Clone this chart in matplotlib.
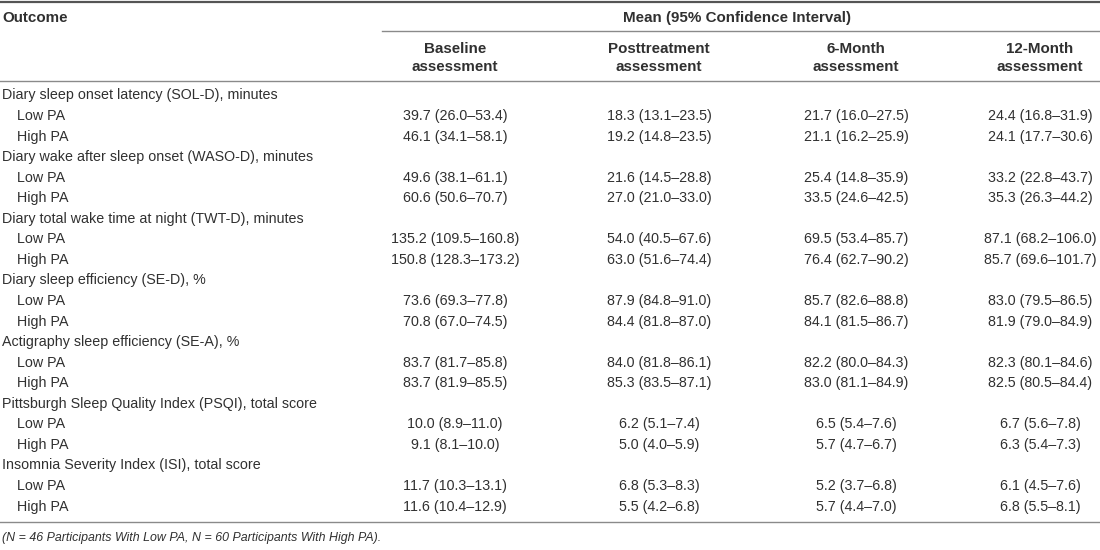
import matplotlib
matplotlib.use("Agg")
import matplotlib.pyplot as plt

# table content
outcomes = [
    "Diary sleep onset latency (SOL-D), minutes",
    "Diary wake after sleep onset (WASO-D), minutes",
    "Diary total wake time at night (TWT-D), minutes",
    "Diary sleep efficiency (SE-D), %",
    "Actigraphy sleep efficiency (SE-A), %",
    "Pittsburgh Sleep Quality Index (PSQI), total score",
    "Insomnia Severity Index (ISI), total score",
]
groups = ["Low PA", "High PA"]
columns = ["Baseline\nassessment", "Posttreatment\nassessment",
           "6-Month\nassessment", "12-Month\nassessment"]

baseline = [
    ["39.7 (26.0–53.4)", "46.1 (34.1–58.1)"],
    ["49.6 (38.1–61.1)", "60.6 (50.6–70.7)"],
    ["135.2 (109.5–160.8)", "150.8 (128.3–173.2)"],
    ["73.6 (69.3–77.8)", "70.8 (67.0–74.5)"],
    ["83.7 (81.7–85.8)", "83.7 (81.9–85.5)"],
    ["10.0 (8.9–11.0)", "9.1 (8.1–10.0)"],
    ["11.7 (10.3–13.1)", "11.6 (10.4–12.9)"],
]
posttreatment = [
    ["18.3 (13.1–23.5)", "19.2 (14.8–23.5)"],
    ["21.6 (14.5–28.8)", "27.0 (21.0–33.0)"],
    ["54.0 (40.5–67.6)", "63.0 (51.6–74.4)"],
    ["87.9 (84.8–91.0)", "84.4 (81.8–87.0)"],
    ["84.0 (81.8–86.1)", "85.3 (83.5–87.1)"],
    ["6.2 (5.1–7.4)", "5.0 (4.0–5.9)"],
    ["6.8 (5.3–8.3)", "5.5 (4.2–6.8)"],
]
month6 = [
    ["21.7 (16.0–27.5)", "21.1 (16.2–25.9)"],
    ["25.4 (14.8–35.9)", "33.5 (24.6–42.5)"],
    ["69.5 (53.4–85.7)", "76.4 (62.7–90.2)"],
    ["85.7 (82.6–88.8)", "84.1 (81.5–86.7)"],
    ["82.2 (80.0–84.3)", "83.0 (81.1–84.9)"],
    ["6.5 (5.4–7.6)", "5.7 (4.7–6.7)"],
    ["5.2 (3.7–6.8)", "5.7 (4.4–7.0)"],
]
month12 = [
    ["24.4 (16.8–31.9)", "24.1 (17.7–30.6)"],
    ["33.2 (22.8–43.7)", "35.3 (26.3–44.2)"],
    ["87.1 (68.2–106.0)", "85.7 (69.6–101.7)"],
    ["83.0 (79.5–86.5)", "81.9 (79.0–84.9)"],
    ["82.3 (80.1–84.6)", "82.5 (80.5–84.4)"],
    ["6.7 (5.6–7.8)", "6.3 (5.4–7.3)"],
    ["6.1 (4.5–7.6)", "6.8 (5.5–8.1)"],
]
footnote = "(N = 46 Participants With Low PA, N = 60 Participants With High PA)."

plt.rcParams["font.family"] = ["Liberation Sans", "DejaVu Sans"]
txt = "#303030"
line_c = "#8a8a8a"
fs = 10.3
fs_head = 10.9

fig = plt.figure(figsize=(11, 5.5), dpi=100)
ax = fig.add_axes([0, 0, 1, 1])
ax.set_xlim(0, 1100)
ax.set_ylim(550, 0)
ax.axis("off")

col_x = [455, 659, 856, 1040]
all_cols = [baseline, posttreatment, month6, month12]

# header
ax.plot([0, 1100], [1.5, 1.5], color="#555555", lw=1.6)
ax.text(2, 18, "Outcome", fontsize=fs_head, fontweight="bold", color=txt, va="center")
ax.text(737, 18, "Mean (95% Confidence Interval)", fontsize=fs_head, fontweight="bold",
        color=txt, va="center", ha="center")
ax.plot([382, 1100], [31, 31], color=line_c, lw=1.0)
for x, c in zip(col_x, columns):
    ax.text(x, 58, c, fontsize=fs_head, fontweight="bold", color=txt, va="center",
            ha="center", linespacing=1.45)
ax.plot([0, 1100], [81, 81], color=line_c, lw=1.0)

# body
y = 95.5
step = 20.55
for i, name in enumerate(outcomes):
    ax.text(2, y, name, fontsize=fs, color=txt, va="center")
    y += step
    for j, g in enumerate(groups):
        ax.text(17, y, g, fontsize=fs, color=txt, va="center")
        for x, col in zip(col_x, all_cols):
            ax.text(x, y, col[i][j], fontsize=fs, color=txt, va="center", ha="center")
        y += step

ax.plot([0, 1100], [522, 522], color=line_c, lw=1.0)
ax.text(2, 538, footnote, fontsize=8.9, style="italic", color=txt, va="center")

fig.savefig("out.png", dpi=100, facecolor="white")
